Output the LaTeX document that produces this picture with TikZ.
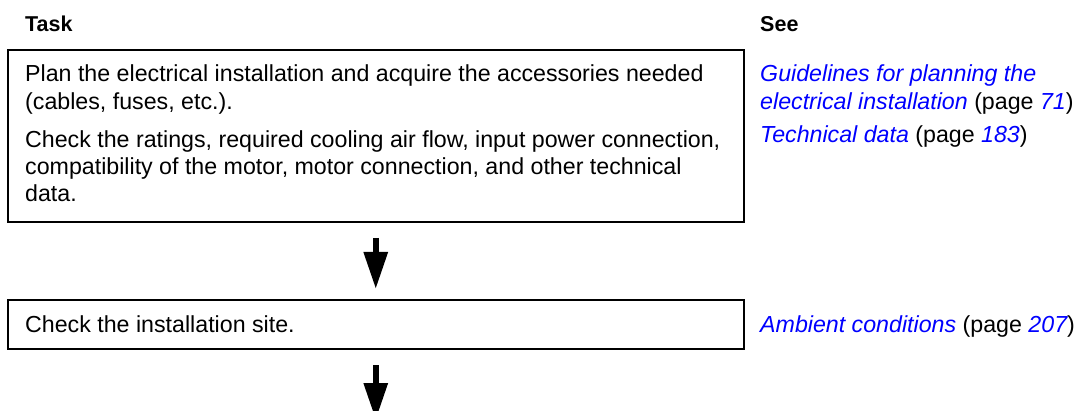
\documentclass[tikz,border=0pt]{standalone}
\usepackage{fontspec}
\setmainfont{Liberation Sans}
\usetikzlibrary{arrows.meta}
\definecolor{linkblue}{RGB}{0,0,255}
\tikzset{
  box/.style={draw, line width=2pt, anchor=north west, inner sep=0pt, outer sep=0pt},
  txt/.style={anchor=base west, inner sep=0pt, font=\fontsize{23.2}{27.8}\selectfont},
  hdr/.style={anchor=base west, inner sep=0pt, font=\fontsize{21.5}{26}\selectfont\bfseries},
  flow/.style={line width=6pt, -{Triangle[width=23pt,length=37pt]}},
}
\newcommand{\lnk}[1]{\textcolor{linkblue}{\itshape #1}}
\begin{document}
\begin{tikzpicture}[x=1pt,y=-1pt]
\useasboundingbox (0,0) rectangle (1078,411);
\clip (0,0) rectangle (1078,411);
\node[hdr] (task) at (25,32) {Task};
\node[hdr] (see) at (760,32) {See};
\node[box, minimum width=736.5pt, minimum height=172.5pt] (b1) at (7.5,50) {};
\node[box, minimum width=736.5pt, minimum height=49pt] (b2) at (7.5,300) {};
\node[txt] (l1) at (25,82) {Plan the electrical installation and acquire the accessories needed};
\node[txt] (l2) at (25,109.5) {(cables, fuses, etc.).};
\node[txt] (l3) at (25,147.5) {Check the ratings, required cooling air flow, input power connection,};
\node[txt] (l4) at (25,175) {compatibility of the motor, motor connection, and other technical};
\node[txt] (l5) at (25,202) {data.};
\node[txt] (r1) at (760,82) {\lnk{Guidelines for planning the}};
\node[txt] (r2) at (760,109.5) {\lnk{electrical installation} (page \lnk{71})};
\node[txt] (r3) at (760,143) {\lnk{Technical data} (page \lnk{183})};
\node[txt] (l6) at (25,333) {Check the installation site.};
\node[txt] (r4) at (760,333) {\lnk{Ambient conditions} (page \lnk{207})};
\coordinate (end2) at (375.75,420);
\draw[flow, shorten <=15.5pt, shorten >=11pt] (b1.south) -- (b2.north);
\draw[flow, shorten <=16pt] (b2.south) -- (end2);
\end{tikzpicture}
\end{document}
